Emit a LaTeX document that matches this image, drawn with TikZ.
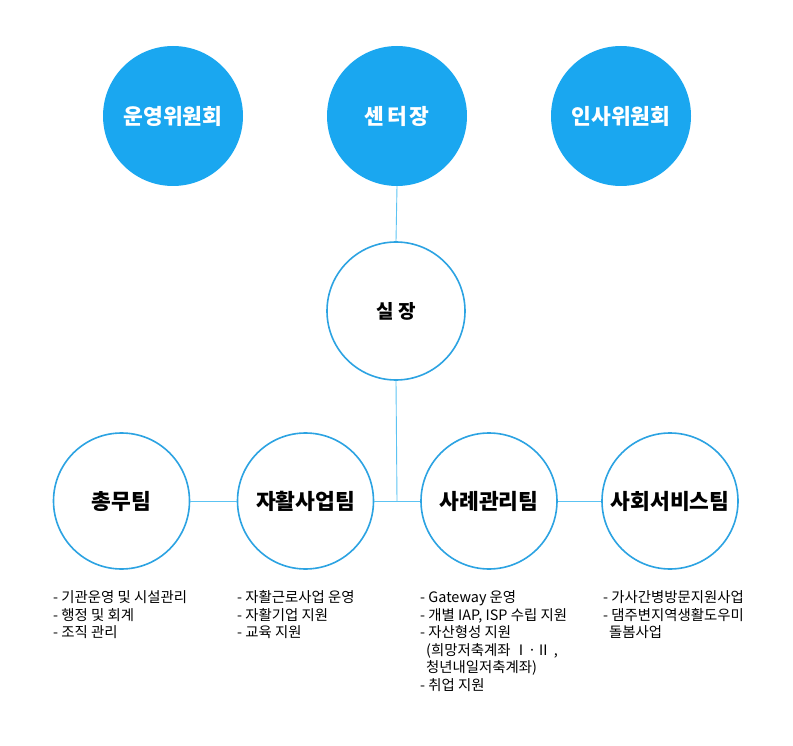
\documentclass[tikz,border=0pt]{standalone}
\usepackage{fontspec}
\setmainfont{Noto Sans CJK KR}
\definecolor{topblue}{HTML}{1AA7F0}
\definecolor{ringblue}{HTML}{2CA3E2}
\definecolor{lineblue}{HTML}{5CC3F2}
\begin{document}
\begin{tikzpicture}[x=1pt,y=-1pt]
\useasboundingbox (0,0) rectangle (793,746);
\tikzset{
 topc/.style={circle, fill=topblue, minimum size=140pt, inner sep=0pt, text=white, font=\bfseries\fontsize{21.5}{24}\selectfont},
 teamc/.style={circle, draw=ringblue, line width=1.6pt, fill=white, minimum size=136pt, inner sep=0pt, font=\bfseries\fontsize{21.5}{24}\selectfont},
 link/.style={draw=lineblue, line width=0.9pt},
 listtxt/.style={anchor=north west, align=left, font=\fontsize{14.4}{17.5}\selectfont, inner sep=0pt}
}
\node[topc] (op) at (173,116) {운영위원회};
\node[topc] (ceo) at (397,116) {센\hspace{-2pt} 터\hspace{-2pt} 장};
\node[topc] (hr) at (621,116) {인사위원회};
\node[teamc, minimum size=138pt, font=\bfseries\fontsize{19}{22}\selectfont] (chief) at (396,311) {실 장};
\node[teamc] (gen) at (121.5,501) {총무팀};
\node[teamc] (self) at (305.5,501) {자활사업팀};
\node[teamc] (case) at (489,501) {사례관리팀};
\node[teamc] (soc) at (670,501) {사회서비스팀};
\coordinate (j) at (397,501);
\draw[link] (ceo.south) -- (chief.north);
\draw[link] (chief.south) -- (j);
\draw[link] (gen.east) -- (self.west);
\draw[link] (self.east) -- (case.west);
\draw[link] (case.east) -- (soc.west);
\node[listtxt] (l1) at (53,590.5) {- 기관운영 및 시설관리\\- 행정 및 회계\\- 조직 관리};
\node[listtxt] (l2) at (237,590.5) {- 자활근로사업 운영\\- 자활기업 지원\\- 교육 지원};
\node[listtxt] (l3) at (420,590.5) {- Gateway 운영\\- 개별 IAP, ISP 수립 지원\\- 자산형성 지원\\\hspace*{6pt}(희망저축계좌 Ⅰ·Ⅱ ,\\\hspace*{6pt}청년내일저축계좌)\\- 취업 지원};
\node[listtxt] (l4) at (603,590.5) {- 가사간병방문지원사업\\- 댐주변지역생활도우미\\\hspace*{6pt}돌봄사업};
\end{tikzpicture}
\end{document}
